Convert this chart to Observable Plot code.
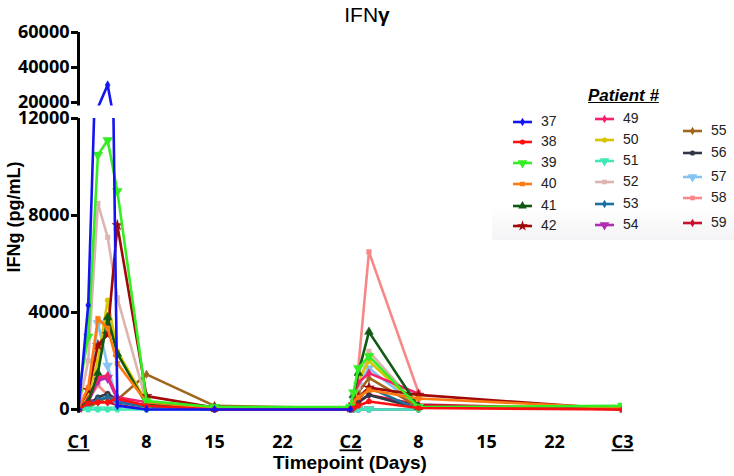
<!DOCTYPE html>
<html><head><meta charset="utf-8">
<script src="https://cdn.jsdelivr.net/npm/d3@7"></script>
<script src="https://cdn.jsdelivr.net/npm/@observablehq/plot@0.6"></script>
<style>
body{margin:0;background:#fff;font-family:"Liberation Sans",Arial,sans-serif;}
#wrap{position:relative;width:734px;height:476px;overflow:hidden;background:#fff;}
#wrap svg.plot-layer{position:absolute;left:0;top:0;}
.t{position:absolute;white-space:nowrap;color:#000;}
</style></head><body><div id="wrap"></div>
<script>
// ---- data ----
const patients = [37, 38, 39, 40, 41, 42, 49, 50, 51, 52, 53, 54, 55, 56, 57, 58, 59];
const colors = ["#1414f0","#ff1010","#33ee22","#ff7a10","#0f5a10","#a00808","#f5206e","#d8c400","#40e8b8","#dcb4b0","#1c70a0","#b02cb0","#a0661c","#303848","#84c4f0","#f88888","#c8102e"];
const symbolNames = ["diamond","circle","tdown","square","triangle","star","diamond","circle","tdown","square","diamond","tdown","diamond","circle","tdown","square","diamond"];
// timepoints in days (C1 = day 1, C2 = day 29, C3 = day 57)
const days = [1, 2, 3, 4, 5, 8, 15, 29, 29.3, 29.8, 30.9, 36, 57];
const p37 = [0, 4300, null, 30000, 150, 0, 0, 0, null, null, null, null, null];
const p38 = [0, 250, 300, 300, 450, 150, 0, 0, 50, 150, 330, 60, 0];
const p39 = [700, 3000, 10500, 11100, 9000, 350, 100, 100, 700, 1700, 2200, 100, 150];
const p40 = [50, 900, 3750, 3350, 1900, 300, 50, 50, 300, 500, 800, 450, 50];
const p41 = [50, 300, 1500, 3800, 2300, 200, 50, 50, 600, 1500, 3200, 100, null];
const p42 = [50, 800, 2650, 3100, 7600, 550, 80, 50, 200, 500, 900, 600, 0];
const p49 = [50, 400, 1300, 1400, 500, 300, 50, 50, 500, 1100, 1500, 650, null];
const p50 = [50, 600, 2000, 4500, 2400, 300, 50, 50, 400, 1200, 2000, 100, null];
const p51 = [0, 0, 0, 0, 0, 0, 0, 0, 0, 0, 0, 0, null];
const p52 = [50, 2000, 8500, 7100, 4600, 300, 50, 50, 300, 900, 2400, 100, null];
const p53 = [0, 200, 400, 500, 300, 100, 0, 0, 200, 500, 900, 0, null];
const p54 = [50, 300, 1200, 1300, 400, 150, 0, 0, 0, 0, 0, 0, null];
const p55 = [0, 100, 300, 500, 400, 1450, 150, 50, 200, 700, 1300, 100, null];
const p56 = [0, 200, 500, 650, 400, 100, 0, 0, 100, 300, 600, 50, null];
const p57 = [50, 500, 3550, 1800, 300, 100, null, 50, 400, 1000, 1700, 100, null];
const p58 = [50, 400, 1000, 600, 300, 100, 50, 50, 300, 1700, 6500, 700, null];
const p59 = [0, 100, 300, 300, 200, 100, 0, 0, 100, 300, 600, 200, 0];
const series = [p37, p38, p39, p40, p41, p42, p49, p50, p51, p52, p53, p54, p55, p56, p57, p58, p59];
const xTickDays = [1, 8, 15, 22, 29, 36, 43, 50, 57];
const xTickLabels = ["C1", "8", "15", "22", "C2", "8", "15", "22", "C3"];
const yTicksLow = [0, 4000, 8000, 12000];
const yTicksHigh = [20000, 40000, 60000];

// ---- helpers ----
const triangleDown = {
  draw(ctx, size) {
    const y = -Math.sqrt(size / (Math.sqrt(3) * 3));
    ctx.moveTo(0, -y * 2);
    ctx.lineTo(-Math.sqrt(3) * y, y);
    ctx.lineTo(Math.sqrt(3) * y, y);
    ctx.closePath();
  }
};
const symOf = (n) => n === "tdown" ? triangleDown : n;
const rOf = (n) => n === "tdown" ? 3.6 : n === "square" ? 2.6 : n === "star" ? 3.4 : n === "triangle" ? 3.2 : 2.6;

const rows = [];
patients.forEach((p, i) => series[i].forEach((v, j) => { if (v != null) rows.push({patient: p, day: days[j], value: v}); }));

const order = patients.map((_, i) => i).reverse();
function dataMarks() {
  return order.flatMap(i => {
    const d = rows.filter(r => r.patient === patients[i]);
    return [
      Plot.line(d, {x: "day", y: "value", stroke: colors[i], strokeWidth: 2.6, clip: true}),
      Plot.dot(d, {x: "day", y: "value", fill: colors[i], stroke: colors[i], strokeWidth: 0.5, symbol: symOf(symbolNames[i]), r: rOf(symbolNames[i]), clip: true})
    ];
  });
}

const W = 734, H = 476;
const common = {
  width: W, height: H, marginLeft: 78, marginRight: 112,
  style: {background: "transparent", overflow: "visible"},
  x: {domain: [1, 57], axis: null}
};
const axisStyle = {fontSize: 18, fontWeight: "bold", fill: "#000", label: null};

// lower panel 0 - 12000
const lower = Plot.plot({
  ...common,
  marginTop: 118, marginBottom: H - 412.6,
  y: {domain: [-150, 12000], axis: null},
  marks: [
    ...dataMarks(),
    Plot.ruleX([1], {y1: -150, y2: 12000, stroke: "#000", strokeWidth: 3}),
    Plot.axisY({ticks: yTicksLow, tickSize: 7, tickPadding: 2, strokeWidth: 3, tickFormat: d => String(d), ...axisStyle, stroke: "#000"}),
    Plot.axisX({ticks: xTickDays, tickFormat: (d) => xTickLabels[xTickDays.indexOf(d)], tickSize: 0, tickPadding: 22.5, ...axisStyle})
  ]
});
// upper panel 20000 - 60000
const upper = Plot.plot({
  ...common,
  marginTop: 32, marginBottom: H - 105.5,
  y: {domain: [18000, 60000], axis: null},
  marks: [
    ...dataMarks(),
    Plot.ruleX([1], {y1: 18000, y2: 60000, stroke: "#000", strokeWidth: 3}),
    Plot.axisY({ticks: yTicksHigh, tickSize: 7, tickPadding: 2, strokeWidth: 3, tickFormat: d => String(d), ...axisStyle, stroke: "#000"})
  ]
});
const wrap = document.getElementById("wrap");
for (const s of [lower, upper]) { s.classList.add("plot-layer"); wrap.appendChild(s); }
d3.select(lower).selectAll("text").filter(function() { return /^C\d$/.test(this.textContent); })
  .attr("text-decoration", "underline");

function addText(txt, css) {
  const el = document.createElement("div");
  el.className = "t";
  el.innerHTML = txt;
  Object.assign(el.style, css);
  wrap.appendChild(el);
  return el;
}
addText('IFN<b>γ</b>', {left: "367px", top: "3px", transform: "translateX(-50%)", fontSize: "21px"});
addText('IFNg (pg/mL)', {left: "14px", top: "217px", transform: "translate(-50%,-50%) rotate(-90deg)", fontSize: "18px", fontWeight: "bold"});
addText('Timepoint (Days)', {left: "350px", top: "452px", transform: "translateX(-50%)", fontSize: "19px", fontWeight: "bold"});

// legend
const shade = document.createElement("div");
Object.assign(shade.style, {position: "absolute", left: "492px", top: "100px", width: "242px", height: "140px",
  background: "linear-gradient(to bottom, rgba(255,255,255,0) 75%, rgba(232,232,236,0.5) 100%)"});
wrap.appendChild(shade);
addText('<i><b><u>Patient #</u></b></i>', {left: "588px", top: "86px", fontSize: "17px"});
const legendCols = [
  {x: 513, ys: [122, 142, 163, 184, 206, 226], idx: [0, 1, 2, 3, 4, 5]},
  {x: 595, ys: [119, 140, 161, 182, 204, 225], idx: [6, 7, 8, 9, 10, 11]},
  {x: 683, ys: [131, 153, 177, 198, 223], idx: [12, 13, 14, 15, 16]}
];
for (const col of legendCols) {
  col.idx.forEach((i, k) => {
    const y = col.ys[k];
    const svg = d3.create("svg").attr("width", 22).attr("height", 12)
      .style("position", "absolute").style("left", (col.x - 1) + "px").style("top", (y - 6) + "px");
    svg.append("line").attr("x1", 1).attr("x2", 20).attr("y1", 6).attr("y2", 6).attr("stroke", colors[i]).attr("stroke-width", 2.6);
    const s = symOf(symbolNames[i]);
    const type = s === triangleDown ? triangleDown : ({circle: d3.symbolCircle, square: d3.symbolSquare, triangle: d3.symbolTriangle, star: d3.symbolStar, diamond: d3.symbolDiamond})[s];
    const rr = rOf(symbolNames[i]);
    svg.append("path").attr("transform", "translate(10.5,6)").attr("d", d3.symbol(type, rr * rr * Math.PI)()).attr("fill", colors[i]);
    wrap.appendChild(svg.node());
    addText(String(patients[i]), {left: (col.x + 28) + "px", top: (y - 9) + "px", fontSize: "14px", color: "#222"});
  });
}
</script></body></html>
